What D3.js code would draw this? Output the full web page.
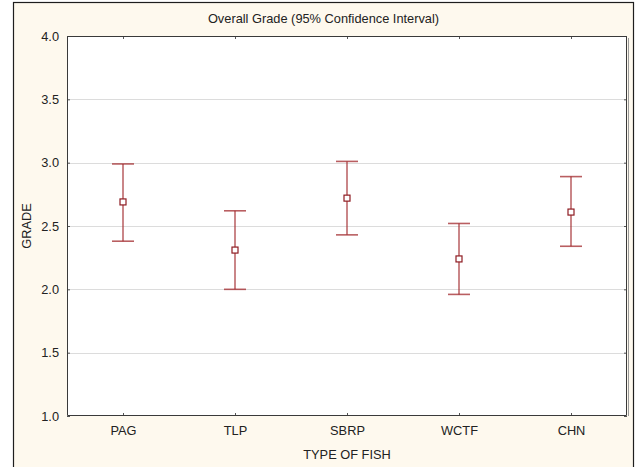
<!DOCTYPE html>
<html>
<head>
<meta charset="utf-8">
<script src="https://cdn.jsdelivr.net/npm/d3@7"></script>
<style>
  html, body { margin: 0; padding: 0; background: #ffffff; }
  svg { display: block; }
  text { font-family: "Liberation Sans", Arial, sans-serif; fill: #222; }
</style>
</head>
<body>
<svg id="chart" width="643" height="467"></svg>
<script>
// Fish types and the mean grade with its 95% confidence limits
const categories = ["PAG", "TLP", "SBRP", "WCTF", "CHN"];
const means = [2.69, 2.31, 2.72, 2.24, 2.61];
const lower = [2.38, 2.00, 2.43, 1.96, 2.34];
const upper = [2.99, 2.62, 3.01, 2.52, 2.89];
const yTicks = [1.0, 1.5, 2.0, 2.5, 3.0, 3.5, 4.0];

const W = 643, H = 467;
const frame = { left: 13.5, top: 2.5, right: 633.5, bottom: 480 };
const plot = { left: 67, top: 36, right: 627, bottom: 416 };
const fs = 12.8;

const svg = d3.select("#chart");
const red = "#a2282c";

// outer panel
svg.append("rect")
  .attr("x", frame.left).attr("y", frame.top)
  .attr("width", frame.right - frame.left).attr("height", frame.bottom - frame.top)
  .attr("fill", "#fef9ee").attr("stroke", "#1e1e1e").attr("stroke-width", 1.2);

const x = d3.scalePoint().domain(categories).range([plot.left, plot.right]).padding(0.5);
const y = d3.scaleLinear().domain([1, 4]).range([plot.bottom, plot.top]);

// plot area
svg.append("rect")
  .attr("x", plot.left).attr("y", plot.top)
  .attr("width", plot.right - plot.left).attr("height", plot.bottom - plot.top)
  .attr("fill", "#ffffff");

// horizontal grid
svg.append("g").selectAll("line")
  .data(yTicks.filter(t => t > 1 && t < 4))
  .join("line")
  .attr("x1", plot.left).attr("x2", plot.right)
  .attr("y1", d => Math.round(y(d)) + 0.5).attr("y2", d => Math.round(y(d)) + 0.5)
  .attr("stroke", "#dcdcdc").attr("stroke-width", 1);

// axes: ticks point inward on all four sides
const yLeft = d3.axisLeft(y).tickValues(yTicks).tickFormat(d3.format(".1f")).tickSizeInner(-3).tickSizeOuter(0).tickPadding(8);
const yRight = d3.axisRight(y).tickValues(yTicks).tickFormat("").tickSizeInner(-3).tickSizeOuter(0);
const xBottom = d3.axisBottom(x).tickSizeInner(-3).tickSizeOuter(0).tickPadding(10);
const xTop = d3.axisTop(x).tickFormat("").tickSizeInner(-3).tickSizeOuter(0);

function styleAxis(g) {
  g.select(".domain").remove();
  g.selectAll(".tick line").attr("stroke", "#555");
  g.selectAll(".tick text").attr("font-size", fs).attr("fill", "#222")
    .attr("font-family", "'Liberation Sans', Arial, sans-serif");
}

svg.append("g").attr("transform", `translate(${plot.left},0)`).call(yLeft).call(styleAxis);
svg.append("g").attr("transform", `translate(${plot.right},0)`).call(yRight).call(styleAxis);
svg.append("g").attr("transform", `translate(0,${plot.bottom})`).call(xBottom).call(styleAxis);
svg.append("g").attr("transform", `translate(0,${plot.top})`).call(xTop).call(styleAxis);

// plot border
svg.append("path")
  .attr("d", `M${plot.left + 0.5},${plot.top + 0.5}H${plot.right - 0.5}V${plot.bottom - 0.5}H${plot.left + 0.5}Z`)
  .attr("fill", "none").attr("stroke", "#3a3a3a").attr("stroke-width", 1);
svg.append("line")
  .attr("x1", plot.right + 1.5).attr("x2", plot.right + 1.5)
  .attr("y1", plot.top + 2).attr("y2", plot.bottom)
  .attr("stroke", "#9a9a9a").attr("stroke-width", 1);

// error bars
const capHalf = 11;
const bars = svg.append("g");
bars.selectAll("line.stem")
  .data(categories)
  .join("line").attr("class", "stem")
  .attr("x1", d => x(d)).attr("x2", d => x(d))
  .attr("y1", (d, i) => y(upper[i])).attr("y2", (d, i) => y(lower[i]))
  .attr("stroke", red).attr("stroke-opacity", 0.75).attr("stroke-width", 1.5);
bars.selectAll("line.capTop")
  .data(categories)
  .join("line").attr("class", "capTop")
  .attr("x1", d => x(d) - capHalf).attr("x2", d => x(d) + capHalf)
  .attr("y1", (d, i) => y(upper[i])).attr("y2", (d, i) => y(upper[i]))
  .attr("stroke", red).attr("stroke-opacity", 0.75).attr("stroke-width", 1.6);
bars.selectAll("line.capBot")
  .data(categories)
  .join("line").attr("class", "capBot")
  .attr("x1", d => x(d) - capHalf).attr("x2", d => x(d) + capHalf)
  .attr("y1", (d, i) => y(lower[i])).attr("y2", (d, i) => y(lower[i]))
  .attr("stroke", red).attr("stroke-opacity", 0.75).attr("stroke-width", 1.6);

// mean markers
bars.selectAll("rect.mean")
  .data(categories)
  .join("rect").attr("class", "mean")
  .attr("x", d => x(d) - 3).attr("y", (d, i) => y(means[i]) - 3)
  .attr("width", 6).attr("height", 6)
  .attr("fill", "#ffffff").attr("stroke", "#8e1c22").attr("stroke-width", 1.2);

// titles
svg.append("text")
  .attr("x", (frame.left + frame.right) / 2).attr("y", 23)
  .attr("text-anchor", "middle").attr("font-size", fs)
  .text("Overall Grade (95% Confidence Interval)");

svg.append("text")
  .attr("x", (plot.left + plot.right) / 2).attr("y", 459)
  .attr("text-anchor", "middle").attr("font-size", fs)
  .text("TYPE OF FISH");

svg.append("text")
  .attr("transform", `translate(31,${(plot.top + plot.bottom) / 2}) rotate(-90)`)
  .attr("text-anchor", "middle").attr("font-size", fs)
  .text("GRADE");
</script>
</body>
</html>
